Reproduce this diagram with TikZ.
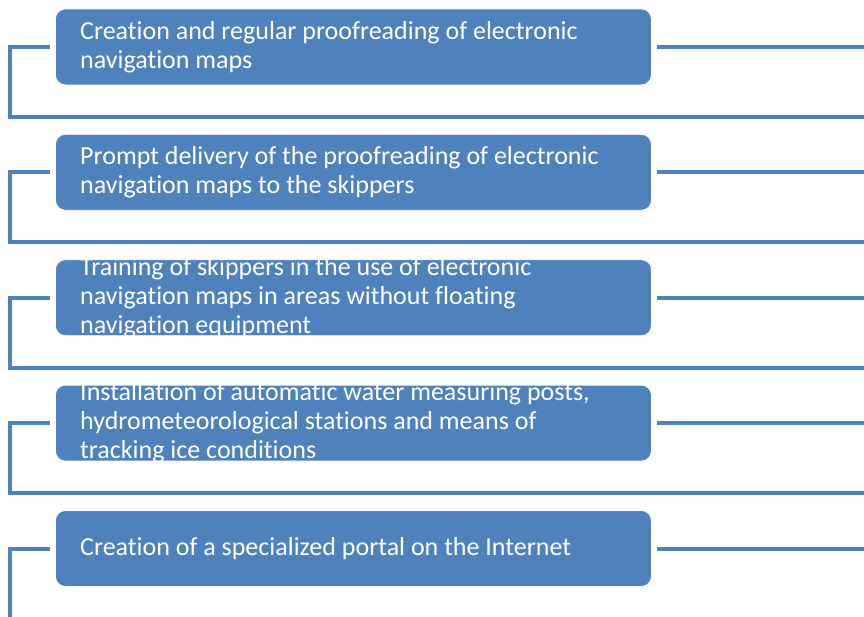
\documentclass[tikz,border=0pt]{standalone}
\usepackage{fontspec}
\setmainfont[Ligatures=NoCommon]{Carlito}
\definecolor{boxblue}{RGB}{79,129,189}
\tikzset{
  stepbox/.style={draw=white, line width=0.8pt, fill=boxblue, rounded corners=10pt,
    minimum width=596pt, minimum height=76pt, inner sep=0pt, anchor=north west},
  boxtext/.style={anchor=west, align=left, text=white, inner sep=0pt,
    font=\fontsize{26pt}{29pt}\selectfont},
  link/.style={draw=boxblue, line width=4pt, line join=miter}
}
\begin{document}
\begin{tikzpicture}[x=1pt,y=-1pt]
\useasboundingbox (0,0) rectangle (864,616);
\coordinate (leftx) at (10,0);
\coordinate (edge) at (866,0);
\coordinate (bottom) at (0,620);
\foreach \i/\t in {1/{Creation and regular proofreading of electronic\\navigation maps},
  2/{Prompt delivery of the proofreading of electronic\\navigation maps to the skippers},
  3/{Training of skippers in the use of electronic\\navigation maps in areas without floating\\navigation equipment},
  4/{Installation of automatic water measuring posts,\\hydrometeorological stations and means of\\tracking ice conditions},
  5/{Creation of a specialized portal on the Internet}}{
  \pgfmathsetmacro{\top}{8.5+125.4*(\i-1)}
  \node[stepbox] (b\i) at (55,\top) {};
  \node[boxtext] (t\i) at ([xshift=25pt]b\i.west) {\t};
  \coordinate (l\i) at ([xshift=-5pt]b\i.west);
  \coordinate (r\i) at ([xshift=5pt]b\i.east);
}
\foreach \i in {1,2,3,4}{
  \draw[link] (l\i) -- (leftx |- l\i) -- ++(0,70) coordinate (c\i) -- (edge |- c\i);
  \draw[link] (r\i) -- (edge |- r\i);
}
\draw[link] (l5) -- (leftx |- l5) -- (leftx |- bottom);
\draw[link] (r5) -- (edge |- r5);
\end{tikzpicture}
\end{document}
